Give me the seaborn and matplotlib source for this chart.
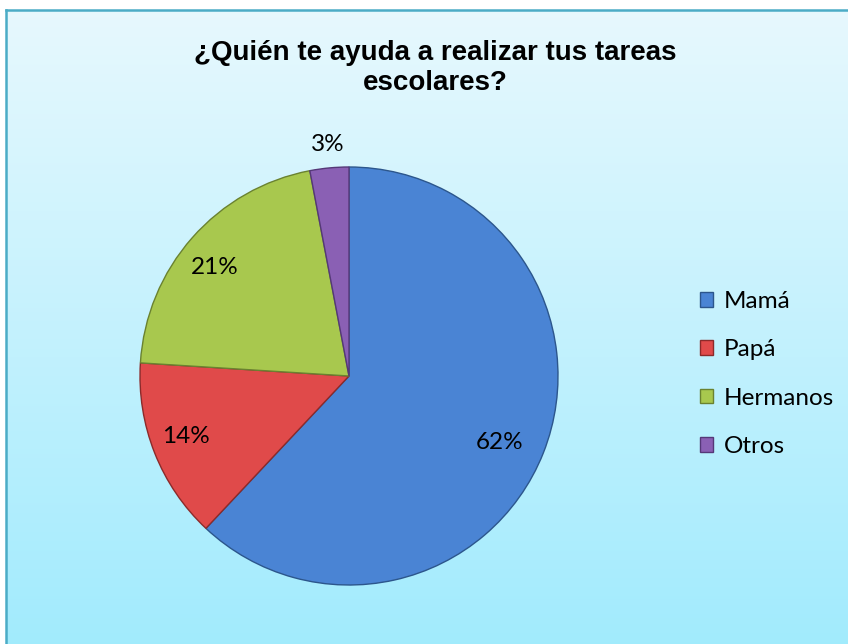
import numpy as np
import seaborn as sns
import matplotlib.pyplot as plt

# data
categories = ['Mamá', 'Papá', 'Hermanos', 'Otros']
percentages = [62, 14, 21, 3]
colors = ['#4a84d4', '#e04a4a', '#a8c84e', '#8a60b4']
edge_colors = ['#2c568c', '#8c2a2a', '#6a8230', '#553878']

sns.set_theme(style='white')
plt.rcParams['font.family'] = ['Lato', 'DejaVu Sans']

fig = plt.figure(figsize=(8.48, 6.44), dpi=100)
fig.patch.set_facecolor('white')

# chart area background with vertical gradient and teal border
bg = fig.add_axes([6 / 848, 0, 1 - 6 / 848, 634 / 644])
grad = np.linspace(0, 1, 256).reshape(-1, 1)
top = np.array([0.905, 0.973, 0.996])
bottom = np.array([0.635, 0.922, 0.992])
img = top + (bottom - top) * grad[:, :, None]
bg.imshow(img, aspect='auto', extent=[0, 1, 0, 1], origin='upper')
bg.set_xticks([])
bg.set_yticks([])
for side in ['right', 'bottom']:
    bg.spines[side].set_visible(False)
for side in ['top', 'left']:
    bg.spines[side].set_color('#4bacc6')
    bg.spines[side].set_linewidth(1.8)

fig.text(0.513, 1 - 68 / 644, '¿Quién te ayuda a realizar tus tareas\nescolares?',
         ha='center', va='center', fontsize=20, fontweight='bold', color='black',
         family=['Liberation Sans', 'DejaVu Sans'], linespacing=1.22)

ax = fig.add_axes([140 / 848, 59 / 644, 418 / 848, 418 / 644])
wedges, texts, autotexts = ax.pie(
    percentages, colors=colors, startangle=90, counterclock=False,
    autopct='%d%%', pctdistance=0.8, radius=1,
    wedgeprops=dict(linewidth=1.0),
    textprops=dict(fontsize=17.5, color='black'))
for w, ec in zip(wedges, edge_colors):
    w.set_edgecolor(ec)

# place labels similar to the reference
autotexts[0].set_position((0.72, -0.32))
autotexts[1].set_position((-0.78, -0.29))
autotexts[2].set_position((-0.64, 0.52))
autotexts[3].set_position((-0.10, 1.11))

ax.set_xlim(-1, 1)
ax.set_ylim(-1, 1)
ax.set_aspect('equal')
ax.axis('off')

leg = fig.legend(wedges, categories, loc='center left',
                 bbox_to_anchor=(678 / 848, 1 - 374 / 644), frameon=False,
                 fontsize=17.5, handlelength=0.55, handleheight=0.55,
                 handletextpad=0.45, labelspacing=1.13)
for t in leg.get_texts():
    t.set_color('black')

fig.savefig('out.png', dpi=100)
